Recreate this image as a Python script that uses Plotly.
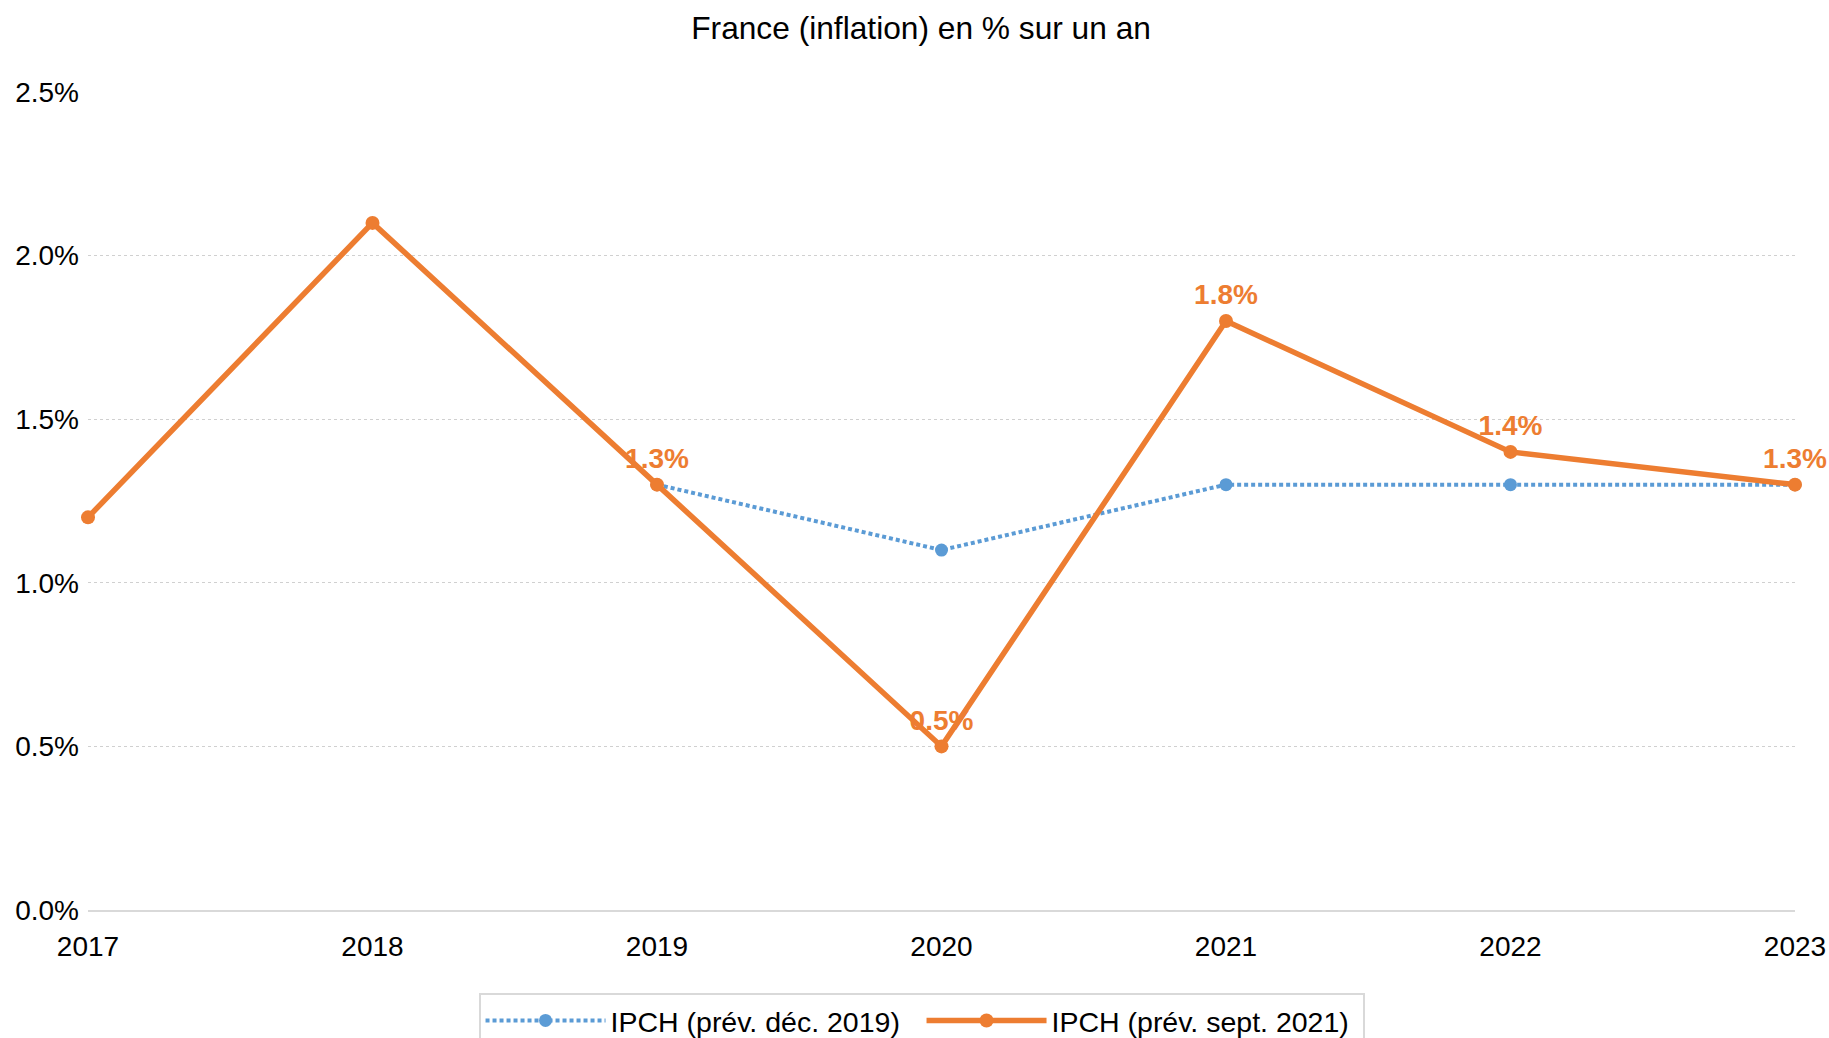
import plotly.graph_objects as go

years = [2017, 2018, 2019, 2020, 2021, 2022, 2023]
ipch_dec2019_years = [2019, 2020, 2021, 2022, 2023]
ipch_dec2019 = [1.3, 1.1, 1.3, 1.3, 1.3]
ipch_sept2021 = [1.2, 2.1, 1.3, 0.5, 1.8, 1.4, 1.3]
labelled_from = 2019
y_ticks = [0.0, 0.5, 1.0, 1.5, 2.0, 2.5]

BLUE = "#5B9BD5"
ORANGE = "#ED7D31"
FONT = "Liberation Sans, Arial, sans-serif"

labels = [f"{v:.1f}%" if yr >= labelled_from else "" for yr, v in zip(years, ipch_sept2021)]

fig = go.Figure()
fig.add_trace(go.Scatter(
    x=ipch_dec2019_years, y=ipch_dec2019, mode="lines+markers",
    name="IPCH (prév. déc. 2019)",
    line=dict(color=BLUE, width=4, dash="4px,3px"),
    marker=dict(color=BLUE, size=13),
    cliponaxis=False,
))
fig.add_trace(go.Scatter(
    x=years, y=ipch_sept2021, mode="lines+markers+text",
    name="IPCH (prév. sept. 2021)",
    line=dict(color=ORANGE, width=5.5),
    marker=dict(color=ORANGE, size=14),
    text=labels, textposition="top center",
    textfont=dict(family=FONT, size=28, color=ORANGE, weight="bold"),
    cliponaxis=False,
))

fig.update_layout(
    width=1829, height=1038,
    paper_bgcolor="white", plot_bgcolor="white",
    margin=dict(l=88, r=34, t=92, b=128, autoexpand=False),
    font=dict(family=FONT, size=28, color="#000000"),
    title=dict(text="France (inflation) en % sur un an", x=0.5036, xref="container",
               y=0.973, yref="container", xanchor="center", yanchor="middle",
               font=dict(size=31.7, color="#000000")),
    showlegend=True,
    legend=dict(orientation="h", x=0.4883, xanchor="center", y=-0.102, yanchor="top",
                bordercolor="#d9d9d9", borderwidth=2, bgcolor="white",
                font=dict(size=28.5), itemwidth=120, entrywidth=306,
                traceorder="normal"),
    xaxis=dict(range=[2017, 2023], tickvals=years, ticktext=[str(y) for y in years],
               showgrid=False, showline=True, linecolor="#d9d9d9", linewidth=2,
               zeroline=False, ticks="", tickfont=dict(size=28), ticklabelstandoff=10),
    yaxis=dict(range=[0, 2.5], tickvals=y_ticks, ticktext=[f"{v:.1f}%" for v in y_ticks],
               showgrid=True, gridcolor="#d0d0d0", griddash="dot", gridwidth=1,
               zeroline=False, showline=False, ticks="", tickfont=dict(size=28),
               ticklabelstandoff=8),
)

fig.write_html("out.html", config={"displayModeBar": False},
               post_script="document.body.style.margin='0';document.body.style.overflow='hidden';")
